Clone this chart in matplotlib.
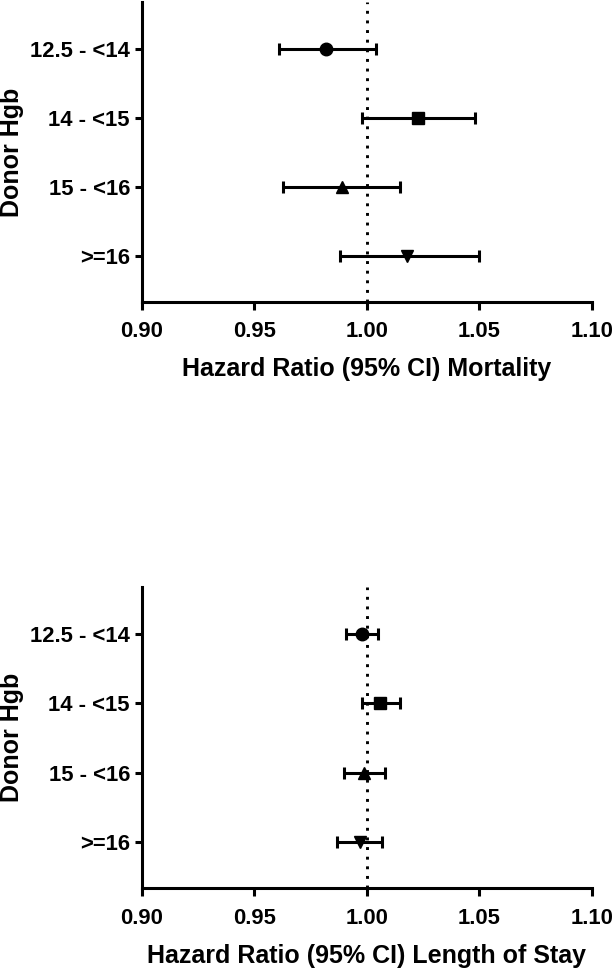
"""Forest plots of donor Hgb categories: mortality and length of stay hazard ratios."""
import matplotlib

matplotlib.use("Agg")
import matplotlib.pyplot as plt
import numpy as np

# Donor Hgb categories, top to bottom
CATEGORIES = ["12.5 - <14", "14 - <15", "15 - <16", ">=16"]
MARKERS = ["o", "s", "^", "v"]

# Hazard ratio (95% CI) for mortality
MORT_HR = [0.982, 1.023, 0.989, 1.018]
MORT_LO = [0.961, 0.998, 0.963, 0.988]
MORT_HI = [1.004, 1.048, 1.015, 1.050]

# Hazard ratio (95% CI) for length of stay
LOS_HR = [0.998, 1.006, 0.999, 0.997]
LOS_LO = [0.991, 0.998, 0.990, 0.987]
LOS_HI = [1.005, 1.015, 1.008, 1.007]

XTICKS = [0.90, 0.95, 1.00, 1.05, 1.10]

plt.rcParams["font.family"] = ["Liberation Sans", "DejaVu Sans"]
plt.rcParams["font.weight"] = "bold"


def forest(ax, hr, lo, hi, xlabel: str) -> None:
    ys = np.arange(1, len(CATEGORIES) + 1)
    ax.axvline(1.0, color="black", linestyle=(0, (1, 2.3)), linewidth=2.1, zorder=1)
    for y, m, h, l, u in zip(ys, MARKERS, hr, lo, hi):
        ax.errorbar(
            h, y, xerr=[[h - l], [u - h]], fmt=m, color="black",
            markersize=9 if m != "s" else 8.5, elinewidth=2.2, capsize=4, capthick=2.2,
            zorder=3,
        )
    ax.set_xlim(0.90, 1.10)
    ax.set_ylim(4.66, 0.32)
    ax.set_xticks(XTICKS, [f"{t:.2f}" for t in XTICKS], fontsize=15.8, fontweight="bold")
    ax.set_yticks(ys, CATEGORIES, fontsize=15.8, fontweight="bold")
    for side in ("top", "right"):
        ax.spines[side].set_visible(False)
    for side in ("left", "bottom"):
        ax.spines[side].set_linewidth(2.2)
    ax.tick_params(axis="x", length=5.5, width=2.2, pad=8.5)
    ax.tick_params(axis="y", length=5, width=2.2, pad=3.5)
    ax.set_xlabel(xlabel, fontsize=18, fontweight="bold", labelpad=11)
    ax.set_ylabel("Donor Hgb", fontsize=18, fontweight="bold")


def main() -> None:
    fig = plt.figure(figsize=(6.14, 9.68), dpi=100)
    ax_top = fig.add_axes([0.2308, 0.6883, 0.7329, 0.3096])
    ax_bot = fig.add_axes([0.2308, 0.0823, 0.7329, 0.3116])
    forest(ax_top, MORT_HR, MORT_LO, MORT_HI, "Hazard Ratio (95% CI) Mortality")
    forest(ax_bot, LOS_HR, LOS_LO, LOS_HI, "Hazard Ratio (95% CI) Length of Stay")
    for ax in (ax_top, ax_bot):
        ax.yaxis.set_label_coords(-0.262, 0.5)
    fig.savefig("out.png", dpi=100)
    plt.close(fig)


if __name__ == "__main__":
    main()
